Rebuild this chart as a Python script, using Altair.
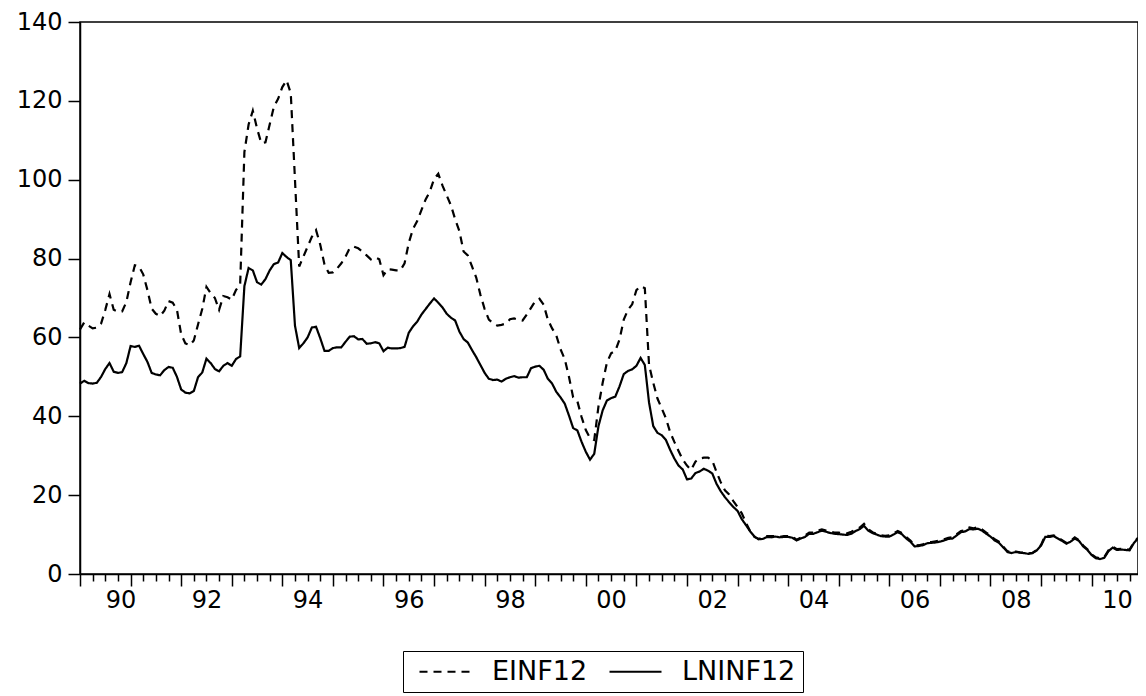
import altair as alt
import pandas as pd

# Monthly observations, 1990M01 .. 2010M12 (index 0 = Jan 1990)
EINF12 = [
    62.0, 63.8, 63.0, 62.3, 62.5, 63.5, 67.0, 71.0, 67.0, 66.5, 66.6, 69.0,
    74.0, 78.3, 78.0, 76.0, 72.0, 67.3, 66.0, 65.4, 66.8, 69.2, 68.8, 67.0,
    60.8, 58.5, 58.0, 59.2, 63.3, 67.2, 72.8, 71.2, 70.0, 67.0, 70.5, 70.2,
    69.6, 72.0, 73.5, 107.0, 114.0, 117.5, 113.0, 109.3, 109.5, 114.0, 118.5, 120.5,
    123.5, 125.2, 122.0, 100.0, 78.0, 80.5, 83.0, 85.5, 87.2, 83.5, 78.5, 76.4,
    76.5, 77.5, 78.8, 80.5, 82.7, 83.0, 82.6, 81.8, 80.8, 79.8, 80.3, 79.8,
    75.8, 77.3, 77.2, 77.0, 77.0, 78.8, 84.0, 87.5, 89.5, 92.3, 95.0, 97.0,
    100.2, 101.5, 98.5, 96.0, 93.5, 90.0, 87.0, 81.8, 80.8, 78.0, 75.2, 70.8,
    67.2, 64.5, 63.6, 63.0, 63.2, 63.5, 64.6, 64.8, 64.5, 64.3, 65.8, 67.5,
    69.2, 69.8, 68.3, 64.5, 62.3, 60.5, 57.0, 54.5, 50.0, 44.8, 43.8, 39.8,
    36.5, 34.5, 34.0, 42.5, 48.5, 53.6, 56.0, 56.6, 59.5, 64.5, 67.0, 68.4,
    72.0, 73.0, 72.5, 53.0, 48.5, 44.5, 42.0, 39.5, 36.0, 33.5, 31.2, 29.0,
    27.5, 26.4, 28.5, 29.3, 29.5, 29.5, 28.8, 25.9, 23.3, 21.2, 20.2, 18.5,
    17.0, 15.4, 13.0, 10.8, 9.4, 8.9, 9.2, 9.6, 9.6, 9.6, 9.4, 9.6,
    9.6, 9.5, 8.7, 9.2, 9.8, 10.5, 10.5, 11.0, 11.3, 11.0, 10.7, 10.5,
    10.5, 10.4, 10.3, 10.7, 11.3, 11.8, 12.7, 11.4, 10.6, 10.2, 9.8, 9.7,
    9.8, 10.3, 10.9, 10.4, 9.4, 8.5, 7.2, 7.3, 7.5, 8.0, 8.1, 8.3,
    8.5, 8.8, 9.2, 9.3, 10.1, 10.9, 11.1, 11.8, 11.6, 11.9, 11.3, 10.5,
    9.7, 8.8, 8.2, 7.0, 5.8, 5.4, 5.7, 5.5, 5.4, 5.2, 5.4, 6.1,
    7.4, 9.8, 9.6, 9.8, 9.2, 8.6, 7.9, 8.4, 9.3, 8.6, 7.2, 6.3,
    5.0, 4.2, 4.0, 4.3, 6.0, 6.9, 6.3, 6.4, 6.3, 6.2, 8.0, 9.2,
]

LNINF12 = [
    48.3, 49.0, 48.4, 48.3, 48.5, 50.0, 52.0, 53.5, 51.3, 51.0, 51.2, 53.5,
    57.8, 57.6, 57.9, 55.8, 53.8, 51.0, 50.6, 50.4, 51.7, 52.5, 52.3, 50.0,
    46.8, 46.0, 45.8, 46.4, 49.9, 51.1, 54.6, 53.5, 52.0, 51.4, 52.8, 53.5,
    52.8, 54.5, 55.2, 73.0, 77.6, 77.0, 74.0, 73.4, 74.8, 77.0, 78.6, 79.0,
    81.4, 80.4, 79.6, 63.0, 57.3, 58.5, 60.0, 62.5, 62.7, 59.8, 56.6, 56.6,
    57.3, 57.5, 57.5, 58.9, 60.2, 60.3, 59.5, 59.6, 58.4, 58.5, 58.8, 58.5,
    56.5, 57.4, 57.2, 57.2, 57.3, 57.6, 61.2, 62.8, 64.0, 65.8, 67.2, 68.6,
    69.9, 68.8, 67.6, 66.0, 65.0, 64.3, 61.5, 59.6, 58.7, 56.8, 55.0, 53.0,
    51.0, 49.5, 49.2, 49.3, 48.8, 49.5, 49.9, 50.2, 49.8, 49.9, 49.9, 52.2,
    52.6, 52.8, 51.8, 49.5, 48.3, 46.2, 44.8, 43.2, 40.2, 37.0, 36.4, 33.5,
    31.0, 29.0, 30.5, 37.5, 41.5, 44.0, 44.6, 45.0, 47.6, 50.7, 51.5, 51.9,
    52.8, 54.8, 53.0, 43.5, 37.5, 35.8, 35.2, 34.0, 31.5, 29.3, 27.5, 26.5,
    24.0, 24.2, 25.6, 26.0, 26.7, 26.2, 25.5, 22.9, 21.0, 19.5, 18.2, 17.0,
    16.0, 13.9, 12.4, 10.8, 9.5, 8.8, 8.9, 9.4, 9.3, 9.5, 9.3, 9.4,
    9.4, 9.2, 8.5, 9.0, 9.4, 10.2, 10.2, 10.6, 11.0, 10.7, 10.4, 10.2,
    10.1, 10.0, 9.9, 10.2, 10.9, 11.4, 12.2, 11.0, 10.4, 10.0, 9.6, 9.5,
    9.5, 10.0, 10.6, 10.1, 9.0, 8.2, 7.0, 7.1, 7.3, 7.8, 7.9, 8.0,
    8.2, 8.5, 8.9, 9.0, 9.8, 10.6, 10.8, 11.4, 11.3, 11.5, 11.0, 10.2,
    9.5, 8.5, 7.9, 6.8, 5.6, 5.3, 5.6, 5.4, 5.3, 5.1, 5.3, 6.0,
    7.2, 9.4, 9.4, 9.6, 9.0, 8.4, 7.7, 8.2, 9.0, 8.4, 7.0, 6.1,
    4.8, 4.0, 3.8, 4.1, 5.8, 6.7, 6.1, 6.2, 6.1, 6.0, 7.8, 9.0,
]

SERIES = ["EINF12", "LNINF12"]
YEAR_LABELS = ["90", "92", "94", "96", "98", "00", "02", "04", "06", "08", "10"]
Y_TICKS = [0, 20, 40, 60, 80, 100, 120, 140]

n = len(EINF12)
df = pd.DataFrame({
    "t": list(range(n)) * 2,
    "value": EINF12 + LNINF12,
    "series": [SERIES[0]] * n + [SERIES[1]] * n,
})

major = list(range(0, n, 12))
minor = [v for v in range(0, n, 3) if v % 12 != 0]
label_expr = "datum.value % 24 == 0 ? " + str(YEAR_LABELS) + "[datum.value / 24] : ''"

W, H = 1058, 552
month_px = W / (n - 1)

FONT = "DejaVu Sans"
FS = 24
LEG_FS = 27

xscale = alt.Scale(domain=[0, n - 1], nice=False, zero=False)
yscale = alt.Scale(domain=[0, 140], nice=False)

lines = alt.Chart(df).mark_line(color="black", strokeWidth=2.2).encode(
    x=alt.X("t:Q", scale=xscale,
            axis=alt.Axis(values=major, tickSize=12, labelExpr=label_expr,
                          labelOffset=6 * month_px, labelOverlap=False,
                          labelPadding=2, title=None, grid=False, orient="bottom")),
    y=alt.Y("value:Q", scale=yscale,
            axis=alt.Axis(values=Y_TICKS, tickSize=12, title=None, grid=False,
                          labelPadding=6, labelOverlap=False)),
    strokeDash=alt.StrokeDash(
        "series:N",
        scale=alt.Scale(domain=SERIES, range=[[8, 6], [1, 0]]),
        legend=alt.Legend(title=None, orient="none", legendX=323, legendY=629,
                          direction="horizontal",
                          symbolType="M-2.6,0H2.6", symbolSize=400,
                          symbolStrokeWidth=2, symbolStrokeColor="black",
                          symbolOffset=22,
                          labelFont=FONT, labelFontSize=LEG_FS, labelColor="black",
                          labelOffset=33,
                          strokeColor="black", padding=7, columnPadding=12),
    ),
)

minor_ticks = alt.Chart(df).mark_line(strokeOpacity=0).encode(
    x=alt.X("t:Q", scale=xscale,
            axis=alt.Axis(values=minor, tickSize=7, labels=False, domain=False,
                          title=None, grid=False, orient="bottom")),
    y=alt.Y("value:Q", scale=yscale, axis=None),
)

chart = alt.layer(lines, minor_ticks).resolve_scale(
    x="shared", y="shared"
).resolve_axis(
    x="independent", y="independent"
).properties(
    width=W, height=H,
    autosize=alt.AutoSizeParams(type="none"),
    padding={"left": 72, "top": 14, "right": 0, "bottom": 120},
    background="white",
).configure_view(
    stroke="black", strokeWidth=1.5
).configure_axis(
    domainColor="black", domainWidth=1.5, tickColor="black", tickWidth=1.5,
    labelColor="black", labelFont=FONT, labelFontSize=FS,
)

chart.save("out.html", embed_options={"renderer": "svg", "actions": False})
